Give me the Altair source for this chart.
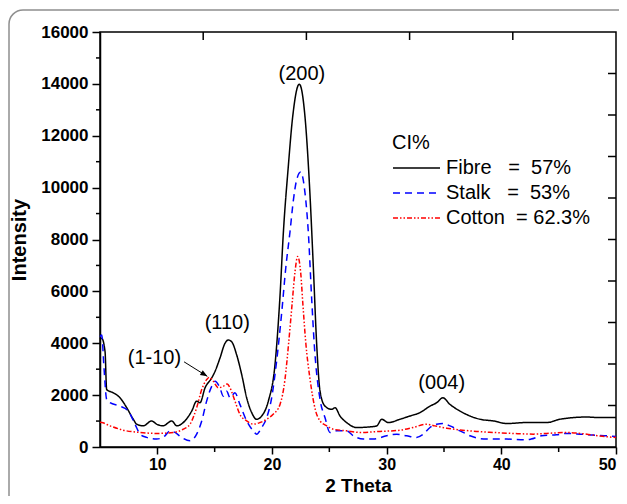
import altair as alt
import pandas as pd

# ---------------- data ----------------
fibre_x = [5.0, 5.15, 5.44, 5.58, 6.16, 6.74, 7.33, 7.9, 8.2, 8.78, 9.5, 9.94, 10.5, 11.25, 11.7,
           12.4, 13.0, 13.43, 13.72, 14.16, 14.74, 15.03, 15.46, 15.9, 16.19, 16.48, 16.92, 17.36,
           17.79, 18.23, 18.66, 19.1, 19.68, 20.26, 20.41, 20.7, 20.99, 21.42, 21.8, 22.38, 22.88,
           23.26, 23.6, 23.9, 24.19, 24.62, 25.2, 25.5, 25.93, 26.5, 27.39, 28.55, 29.13, 29.57,
           30.14, 31.16, 32.03, 32.9, 33.78, 34.36, 34.9, 35.52, 36.4, 37.27, 38.14, 39.3, 40.47,
           42.2, 43.96, 45.1, 46.3, 47.4, 48.6, 50.0]
fibre_y = [4150, 4190, 3680, 2215, 2090, 1900, 1516, 1070, 880, 815, 1005, 880, 815, 1005, 815,
           1005, 1386, 1768, 1707, 2280, 2662, 2914, 3425, 3998, 4125, 4060, 3552, 2788,
           1898, 1325, 1069, 1196, 1768, 3170, 3934, 5840, 8261, 10808, 12717, 13990, 12717,
           10170, 6989, 3934, 2150, 1577, 1451, 1516, 1195, 943, 752, 775, 813, 1069,
           943, 1069, 1195, 1325, 1577, 1707, 1898, 1642, 1386, 1195, 1069, 1005, 905,
           943, 943, 1069, 1134, 1157, 1134, 1134]

stalk_x = [5.0, 5.15, 5.35, 5.58, 5.87, 6.74, 7.47, 8.05, 8.5, 9.07, 9.94, 10.67, 11.1, 11.54,
           12.12, 12.85, 13.43, 13.87, 14.3, 14.74, 15.03, 15.46, 15.75, 16.05, 16.34, 16.77,
           17.2, 17.79, 18.37, 18.66, 19.1, 19.54, 19.97, 20.4, 20.85, 21.2, 21.57, 21.86, 22.15,
           22.5, 22.88, 23.17, 23.46, 23.69, 24.19, 24.62, 25.06, 25.64, 26.5, 27.09, 27.96,
           28.84, 30.0, 30.87, 31.74, 32.6, 33.2, 33.78, 34.36, 34.94, 35.52, 36.4, 36.98, 37.27,
           38.7, 40.47, 42.2, 42.6, 43.5, 44.8, 45.7, 46.86, 48.0, 49.2, 50.0]
stalk_y = [4250, 4320, 3044, 1833, 1707, 1578, 1386, 880, 496, 370, 305, 432, 622, 561,
           370, 241, 496, 1005, 1768, 2340, 2532, 2280, 1959, 2150, 1898, 2089,
           1642, 1005, 622, 496, 752, 1134, 1898, 3300, 5200, 6900, 8300, 9500, 10300,
           10600, 9788, 8261, 5717, 3934, 1833, 1134, 561, 622, 622, 432, 305,
           305, 432, 496, 432, 370, 496, 752, 880, 905, 815, 620, 496, 432,
           305, 305, 280, 305, 432, 470, 523, 496, 458, 432, 408]

cotton_x = [5.0, 5.15, 5.87, 7.03, 8.5, 9.94, 11.4, 12.27, 12.85, 13.43, 13.87, 14.3, 14.53,
            14.88, 15.32, 15.75, 16.1, 16.34, 16.77, 17.2, 17.79, 18.37, 18.95, 19.54, 20.1,
            20.7, 21.13, 21.45, 21.75, 22.0, 22.24, 22.5, 22.7, 22.95, 23.3, 23.8, 24.19, 24.77,
            25.35, 26.5, 27.67, 29.42, 31.16, 32.3, 33.49, 34.2, 35.23, 36.4, 37.85, 39.3,
            41.04, 42.79, 43.96, 45.7, 46.86, 48.0, 49.2, 50.0]
cotton_y = [950, 943, 815, 649, 561, 523, 561, 687, 880, 1516, 2215, 2597, 2685,
            2532, 2280, 2341, 2432, 2280, 1768, 1260, 1005, 880, 943, 1069, 1260,
            1642, 2600, 4000, 5500, 6733, 7344, 6733, 5461, 4000, 2670, 1400, 1005, 815,
            687, 622, 561, 600, 649, 752, 880, 815, 725, 660, 600, 561,
            523, 496, 523, 561, 523, 458, 394, 370]

series_names = ["Fibre", "Stalk", "Cotton"]
ci_values = ["57", "53", "62.3"]
series_colors = ["#000000", "#0000ff", "#ff0000"]
series_dashes = [[1, 0], [7, 5], [5, 2, 1.5, 2, 1.5, 2]]

peak_labels = ["(200)", "(110)", "(1-10)", "(004)"]
peak_x = [22.6, 16.1, 9.75, 34.8]
peak_y = [14000, 4400, 3055, 2100]

arrow_from = (12.33, 3284)
arrow_to = (14.36, 2723)

x_major = [10, 20, 30, 40, 50]
x_minor = [15, 25, 35, 45]
y_major = [0, 2000, 4000, 6000, 8000, 10000, 12000, 14000, 16000]
y_minor = [1000, 3000, 5000, 7000, 9000, 11000, 13000, 15000]
top_ticks = [14, 23, 32, 41]
right_ticks = [1600, 3200, 4800, 6400, 8000, 9600, 11200, 12800, 14400]

FONT = "Liberation Sans"
NB = "\u00a0"
gaps = {"Fibre": (3, 2), "Stalk": (3, 2), "Cotton": (2, 1)}
labels = [f"{n}{NB * gaps[n][0]}={NB * gaps[n][1]}{c}%" for n, c in zip(series_names, ci_values)]

rows = []
for lab, xs, ys in zip(labels, [fibre_x, stalk_x, cotton_x], [fibre_y, stalk_y, cotton_y]):
    for xv, yv in zip(xs, ys):
        rows.append({"theta": xv, "intensity": yv, "series": lab})
df = pd.DataFrame(rows)

xscale = alt.Scale(domain=[5, 50], nice=False, zero=False)
yscale = alt.Scale(domain=[0, 16000], nice=False)

legend = alt.Legend(title="CI%", orient="none", legendX=292, legendY=101,
                    symbolType="stroke", symbolSize=2209, symbolStrokeWidth=1.5,
                    clipHeight=20,
                    labelFont=FONT, labelFontSize=20, labelColor="black", labelOffset=5,
                    titleFont=FONT, titleFontSize=20, titleFontWeight="normal", titleColor="black",
                    titlePadding=5, rowPadding=5, padding=0, labelLimit=300)

lines = alt.Chart(df).mark_line(strokeWidth=1.5, interpolate="monotone").encode(
    x=alt.X("theta:Q", scale=xscale, title="2 Theta",
            axis=alt.Axis(values=x_major, tickSize=7, tickWidth=1.5, tickColor="black",
                          domainColor="black", domainWidth=1.5, grid=False,
                          labelFont=FONT, labelFontSize=16, labelFontWeight="bold",
                          labelColor="black", labelPadding=2, labelFlush=True,
                          titleFont=FONT, titleFontSize=19, titleFontWeight="bold",
                          titleColor="black", titleBaseline="alphabetic", titleY=44)),
    y=alt.Y("intensity:Q", scale=yscale, title="Intensity",
            axis=alt.Axis(values=y_major, format="d", tickSize=8, tickWidth=1.5,
                          tickColor="black", domainColor="black", domainWidth=1.5, grid=False,
                          labelFont=FONT, labelFontSize=17, labelFontWeight="bold",
                          labelColor="black", labelPadding=4, labelFlush=False,
                          titleFont=FONT, titleFontSize=20, titleFontWeight="bold",
                          titleColor="black", titlePadding=11)),
    color=alt.Color("series:N", sort=labels,
                    scale=alt.Scale(domain=labels, range=series_colors), legend=legend),
    strokeDash=alt.StrokeDash("series:N", sort=labels,
                              scale=alt.Scale(domain=labels, range=series_dashes), legend=legend),
)

def tick_layer(xs, ys, orient, size, **offs):
    d = pd.DataFrame({"theta": xs, "intensity": ys})
    return alt.Chart(d).mark_tick(orient=orient, size=size, thickness=1.5, color="black",
                                  opacity=1, **offs).encode(
        x=alt.X("theta:Q", scale=xscale), y=alt.Y("intensity:Q", scale=yscale))

top = tick_layer(top_ticks, [16000] * len(top_ticks), "vertical", 8, yOffset=4)
right = tick_layer([50] * len(right_ticks), right_ticks, "horizontal", 8, xOffset=-4)
bottom_minor = tick_layer(x_minor, [0] * len(x_minor), "vertical", 5, yOffset=2.5)
left_minor = tick_layer([5] * len(y_minor), y_minor, "horizontal", 4, xOffset=-2)

ann_df = pd.DataFrame({"theta": peak_x, "intensity": peak_y, "label": peak_labels})
ann = alt.Chart(ann_df).mark_text(font=FONT, fontSize=20, baseline="bottom", align="center",
                                  color="black").encode(
    x=alt.X("theta:Q", scale=xscale), y=alt.Y("intensity:Q", scale=yscale), text="label:N")

arrow_df = pd.DataFrame({"theta": [arrow_from[0]], "intensity": [arrow_from[1]],
                         "theta2": [arrow_to[0]], "intensity2": [arrow_to[1]]})
arrow_line = alt.Chart(arrow_df).mark_rule(color="black", strokeWidth=1).encode(
    x=alt.X("theta:Q", scale=xscale), y=alt.Y("intensity:Q", scale=yscale),
    x2="theta2:Q", y2="intensity2:Q")
head_df = pd.DataFrame({"theta": [arrow_to[0]], "intensity": [arrow_to[1]]})
arrow_head = alt.Chart(head_df).mark_point(shape="M0,0L0.38,1L-0.38,1Z", size=200, filled=True,
                                           color="black", opacity=1, angle=122).encode(
    x=alt.X("theta:Q", scale=xscale), y=alt.Y("intensity:Q", scale=yscale))

frame = alt.Chart(pd.DataFrame({"k": [0]})).mark_rect(
    filled=False, stroke="#8f8f8f", strokeWidth=1.5, cornerRadius=14).encode(
    x=alt.value(-91), x2=alt.value(540), y=alt.value(-22), y2=alt.value(480))

chart = alt.layer(frame, lines, top, right, bottom_minor, left_minor, ann, arrow_line,
                  arrow_head).properties(
    width=516, height=415,
    autosize=alt.AutoSizeParams(type="none"),
    padding={"left": 92, "top": 24, "right": 3, "bottom": 49},
).configure_view(stroke="black", strokeWidth=1.5)

chart.save("out.html", embed_options={"renderer": "svg", "actions": False})
